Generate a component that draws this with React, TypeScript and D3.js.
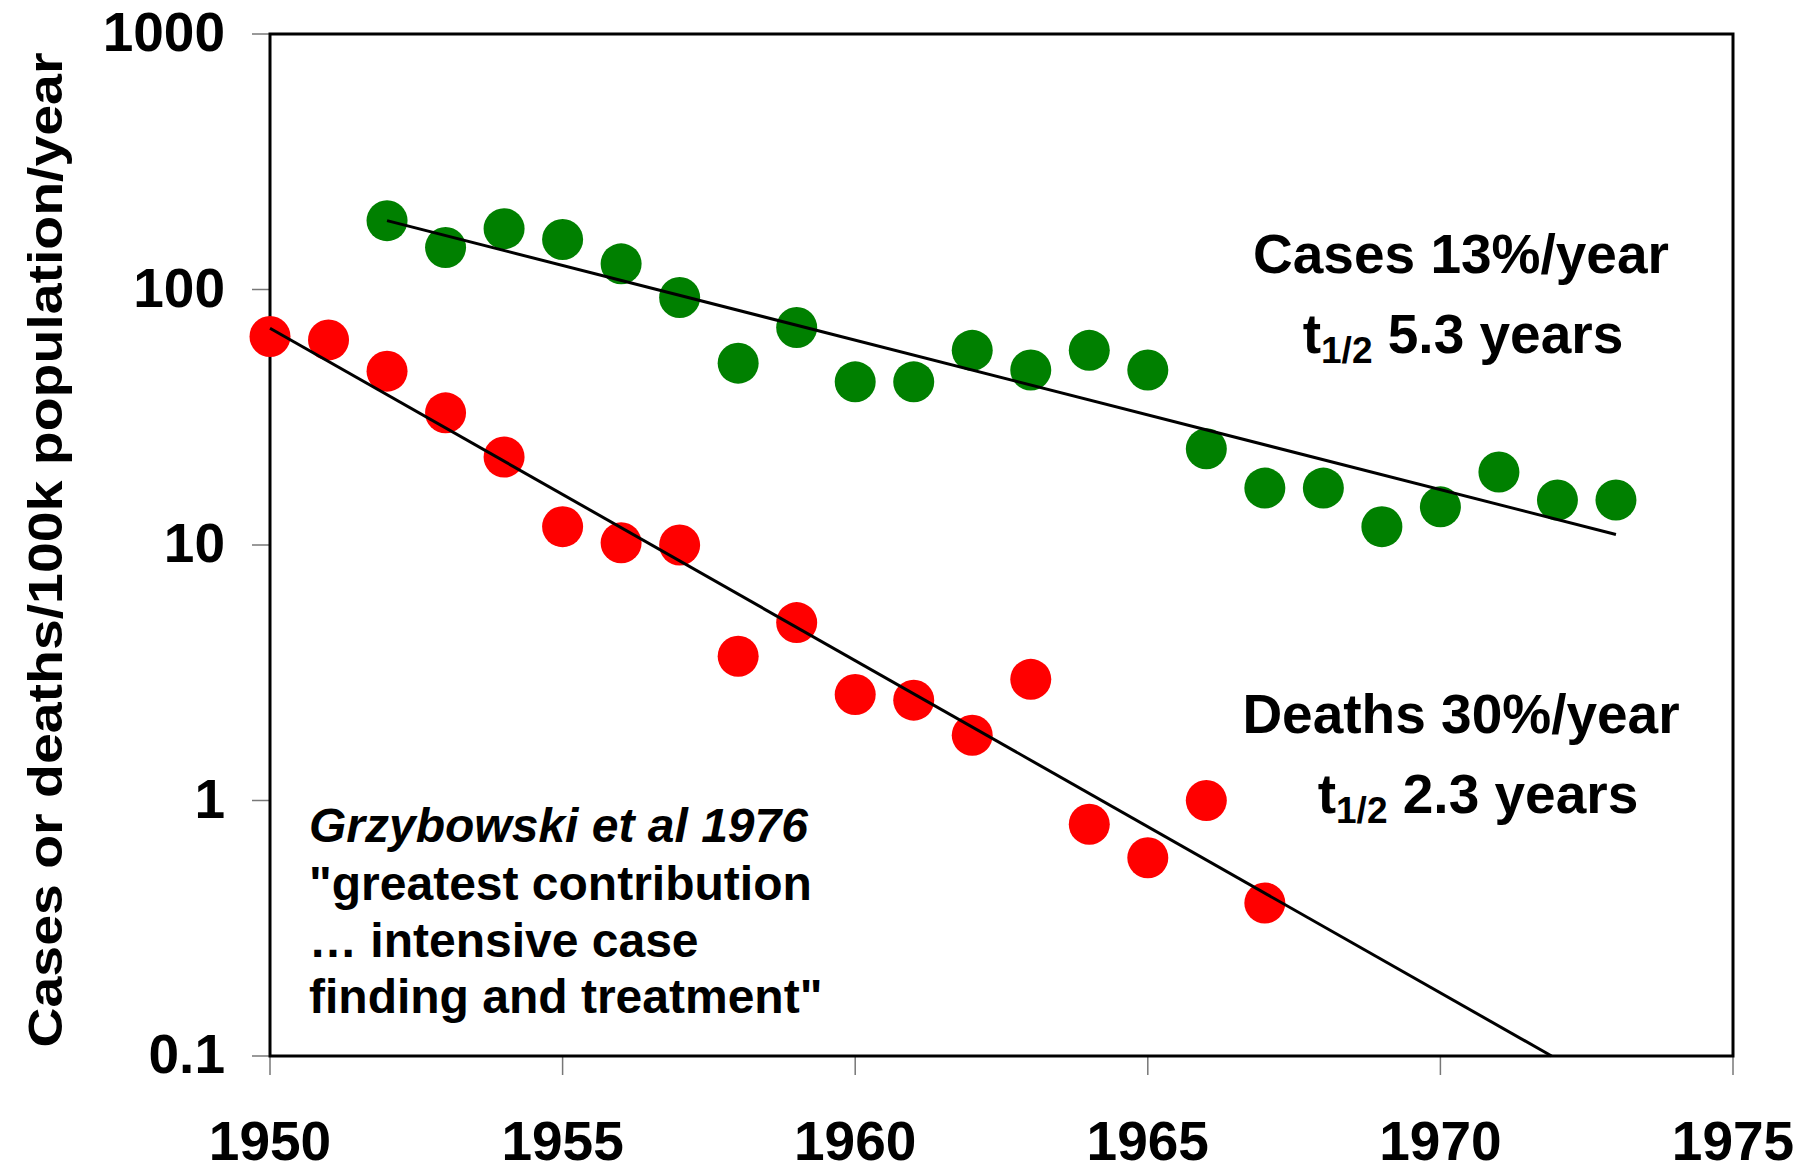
import React from "react";
import * as d3 from "d3";

const caseYears = [1952,1953,1954,1955,1956,1957,1958,1959,1960,1961,1962,1963,1964,1965,1966,1967,1968,1969,1970,1971,1972,1973];
const caseValues = [186,146,173,157,126,93,51.5,71,43.5,43.5,57.8,48.4,57.8,48.4,23.8,16.7,16.7,11.8,14.1,19.3,15.0,15.0];

const deathYears = [1950,1951,1952,1953,1954,1955,1956,1957,1958,1959,1960,1961,1962,1963,1964,1965,1966,1967];
const deathValues = [65.5,63.5,47.9,32.9,22.1,11.8,10.2,10.0,3.67,4.97,2.6,2.47,1.8,2.98,0.807,0.597,1.0,0.397];

const caseTrend: [number, number][] = [[1952, 186], [1973, 11.0]];
const deathTrend: [number, number][] = [[1950, 70.5], [1971.9, 0.1]];

const xTicks = [1950, 1955, 1960, 1965, 1970, 1975];
const yTicks = [0.1, 1, 10, 100, 1000];
const yTickLabels = ["0.1", "1", "10", "100", "1000"];

const W = 1816, H = 1172;
const L = 270, R = 1733, T = 34, B = 1056;
const FONT = "'Liberation Sans', Arial, Helvetica, sans-serif";

export default function App() {
  const x = d3.scaleLinear().domain([1950, 1975]).range([L, R]);
  const y = d3.scaleLog().domain([0.1, 1000]).range([B, T]);
  const line = d3.line<[number, number]>().x(d => x(d[0])).y(d => y(d[1]));

  return (
    <svg width={W} height={H} style={{ position: "absolute", left: 0, top: 0, background: "#fff" }} fontFamily={FONT}>
      <rect x={0} y={0} width={W} height={H} fill="#fff" />
      {yTicks.map((t, i) => (
        <g key={"y" + i}>
          <line x1={L - 18} x2={L} y1={y(t)} y2={y(t)} stroke="#777" strokeWidth={1.5} />
          <text x={225} y={y(t) + 17} textAnchor="end" fontSize={55} fontWeight="bold">{yTickLabels[i]}</text>
        </g>
      ))}
      {xTicks.map((t, i) => (
        <g key={"x" + i}>
          <line x1={x(t)} x2={x(t)} y1={B} y2={B + 19} stroke="#777" strokeWidth={1.5} />
          <text x={x(t)} y={1160} textAnchor="middle" fontSize={55} fontWeight="bold">{t}</text>
        </g>
      ))}
      <rect x={L} y={T} width={R - L} height={B - T} fill="none" stroke="#000" strokeWidth={3} />
      {caseYears.map((yr, i) => (
        <circle key={"c" + i} cx={x(yr)} cy={y(caseValues[i])} r={20.5} fill="#008000" />
      ))}
      {deathYears.map((yr, i) => (
        <circle key={"d" + i} cx={x(yr)} cy={y(deathValues[i])} r={20.5} fill="#FF0000" />
      ))}
      <path d={line(caseTrend) || ""} fill="none" stroke="#000" strokeWidth={3} />
      <path d={line(deathTrend) || ""} fill="none" stroke="#000" strokeWidth={3} />
      <text transform={`translate(62,550) rotate(-90)`} textAnchor="middle" fontSize={48} fontWeight="bold" textLength={995} lengthAdjust="spacingAndGlyphs">Cases or deaths/100k population/year</text>
      <text x={1461} y={273} textAnchor="middle" fontSize={55} fontWeight="bold">Cases 13%/year</text>
      <text x={1463} y={353} textAnchor="middle" fontSize={55} fontWeight="bold">t<tspan fontSize={37} dy={10}>1/2</tspan><tspan dy={-10}> 5.3 years</tspan></text>
      <text x={1461} y={733} textAnchor="middle" fontSize={55} fontWeight="bold">Deaths 30%/year</text>
      <text x={1478} y={813} textAnchor="middle" fontSize={55} fontWeight="bold">t<tspan fontSize={37} dy={10}>1/2</tspan><tspan dy={-10}> 2.3 years</tspan></text>
      <g fontSize={48} fontWeight="bold">
        <text x={309} y={842} fontStyle="italic">Grzybowski et al 1976</text>
        <text x={309} y={900}>"greatest contribution</text>
        <text x={309} y={957}>… intensive case</text>
        <text x={309} y={1013}>finding and treatment"</text>
      </g>
    </svg>
  );
}
